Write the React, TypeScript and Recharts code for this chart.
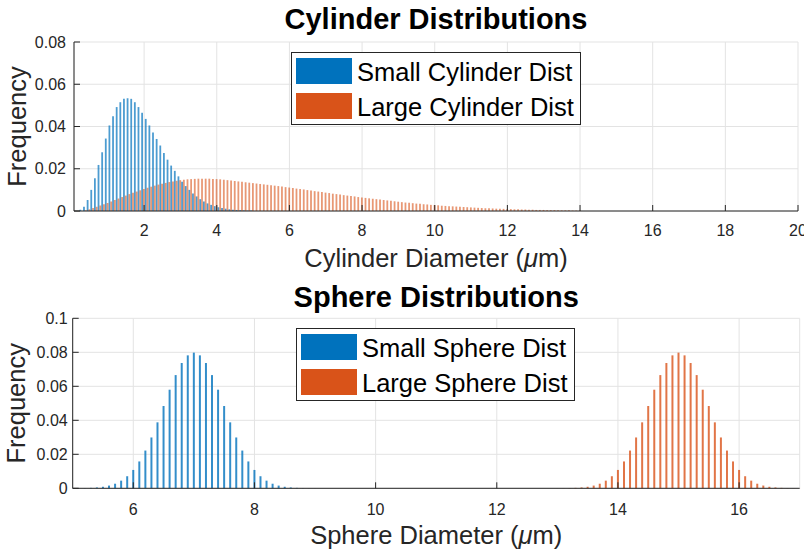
import React from 'react';
import { BarChart, Bar, XAxis, YAxis, CartesianGrid, Legend, Label } from 'recharts';

// histogram bin centres: first centre + index * bin width
const CYL_FIRST_BIN = 0.27;
const CYL_BIN_WIDTH = 0.1;
const SMALL_SPHERE_FIRST_BIN = 5.0;
const LARGE_SPHERE_FIRST_BIN = 13.0;
const SPH_BIN_WIDTH = 0.1;

const smallCylinderFreq = [
  0.0006, 0.002, 0.0052, 0.01, 0.0155, 0.0218, 0.0278, 0.0343, 0.0405, 0.0449,
  0.0492, 0.0515, 0.0531, 0.0534, 0.0531, 0.0515, 0.0492, 0.0465, 0.0436, 0.0405,
  0.0372, 0.0341, 0.031, 0.0275, 0.0243, 0.0215, 0.019, 0.0164, 0.0139, 0.0118,
  0.01, 0.0083, 0.0069, 0.0056, 0.0045, 0.0036, 0.0029, 0.0023, 0.0018, 0.0014,
  0.0011, 0.0008, 0.0006, 0.0005, 0.0004, 0.0003, 0.0002, 0.0002,
];

const largeCylinderFreq = [
  0, 0.0003, 0.0008, 0.0014, 0.002, 0.0026, 0.0032, 0.0038, 0.0045, 0.0052,
  0.0059, 0.0066, 0.0073, 0.008, 0.0086, 0.0092, 0.0098, 0.0104, 0.011, 0.0115,
  0.012, 0.0125, 0.0129, 0.0133, 0.0137, 0.014, 0.0143, 0.0146, 0.0148, 0.015,
  0.0151, 0.0152, 0.0153, 0.0153, 0.0153, 0.0153, 0.0152, 0.0151, 0.015, 0.0148,
  0.0146, 0.0144, 0.0142, 0.014, 0.0138, 0.0136, 0.0134, 0.0132, 0.013, 0.0128,
  0.0126, 0.0124, 0.0122, 0.012, 0.0118, 0.0116, 0.0113, 0.0111, 0.0109, 0.0106,
  0.0104, 0.0102, 0.0099, 0.0097, 0.0094, 0.0092, 0.009, 0.0087, 0.0085, 0.0082,
  0.008, 0.0078, 0.0075, 0.0073, 0.0071, 0.0069, 0.0066, 0.0064, 0.0062, 0.006,
  0.0058, 0.0056, 0.0054, 0.0052, 0.005, 0.0048, 0.0046, 0.0044, 0.0042, 0.004,
  0.0039, 0.0037, 0.0035, 0.0034, 0.0032, 0.0031, 0.0029, 0.0028, 0.0027, 0.0025,
  0.0024, 0.0023, 0.0022, 0.0021, 0.002, 0.0019, 0.0018, 0.0017, 0.0016, 0.0015,
  0.0014, 0.0013, 0.0013, 0.0012, 0.0011, 0.0011, 0.001, 0.0009, 0.0009, 0.0008,
  0.0008, 0.0007, 0.0007, 0.0006, 0.0006, 0.0005, 0.0005, 0.0005, 0.0004, 0.0004,
  0.0004, 0.0003, 0.0003, 0.0003, 0.0003, 0.0002, 0.0002, 0.0002,
];

const smallSphereFreq = [
  0.00003, 0.00006, 0.00012, 0.00025, 0.0005, 0.0009, 0.0016, 0.0027, 0.0045, 0.0071,
  0.0108, 0.0158, 0.0222, 0.0299, 0.0388, 0.0484, 0.058, 0.0666, 0.0737, 0.0782,
  0.0798,
  0.0782, 0.0737, 0.0666, 0.058, 0.0484, 0.0388, 0.0299, 0.0222, 0.0158, 0.0108,
  0.0071, 0.0045, 0.0027, 0.0016, 0.0009, 0.0005, 0.00025, 0.00012, 0.00006, 0.00003,
];

const largeSphereFreq = [
  0.00003, 0.00006, 0.00012, 0.00025, 0.0005, 0.0009, 0.0016, 0.0027, 0.0045, 0.0071,
  0.0108, 0.0158, 0.0222, 0.0299, 0.0388, 0.0484, 0.058, 0.0666, 0.0737, 0.0782,
  0.0798,
  0.0782, 0.0737, 0.0666, 0.058, 0.0484, 0.0388, 0.0299, 0.0222, 0.0158, 0.0108,
  0.0071, 0.0045, 0.0027, 0.0016, 0.0009, 0.0005, 0.00025, 0.00012, 0.00006, 0.00003,
];

const cylinderTicks = [2, 4, 6, 8, 10, 12, 14, 16, 18, 20];
const cylinderFreqTicks = [0, 0.02, 0.04, 0.06, 0.08];
const sphereTicks = [6, 8, 10, 12, 14, 16];
const sphereFreqTicks = [0, 0.02, 0.04, 0.06, 0.08, 0.1];

const BLUE = '#0072BD';
const ORANGE = '#D95319';
const INK = '#262626';
const GRID = '#e3e3e3';

const binCentre = (first: number, i: number, w: number) => Math.round((first + i * w) * 100) / 100;

const cylinderData = largeCylinderFreq.map((v, i) => ({
  d: binCentre(CYL_FIRST_BIN, i, CYL_BIN_WIDTH),
  small: smallCylinderFreq[i] ?? null,
  large: v,
}));

const sphereData = [
  ...smallSphereFreq.map((v, i) => ({ d: binCentre(SMALL_SPHERE_FIRST_BIN, i, SPH_BIN_WIDTH), small: v, large: null })),
  ...largeSphereFreq.map((v, i) => ({ d: binCentre(LARGE_SPHERE_FIRST_BIN, i, SPH_BIN_WIDTH), small: null, large: v })),
];

const tickStyle = { fill: INK, fontSize: 16 };

// keep legend entries in series order (small first)
const seriesOrder = (item: any) => (item.dataKey === 'small' ? 0 : 1);

const xTitle = (text: string) => (props: any) => {
  const { x, y, width } = props.viewBox;
  return (
    <text x={x + width / 2} y={y + 55.7} textAnchor="middle" fontSize={25.5} fill={INK}>
      {text} (<tspan fontStyle="italic">μ</tspan>m)
    </text>
  );
};

const yTitle = (props: any) => {
  const { x, y, height } = props.viewBox;
  const cx = x + 25.5;
  const cy = y + height / 2;
  return (
    <text x={cx} y={cy} transform={`rotate(-90 ${cx} ${cy})`} textAnchor="middle" fontSize={25.5} fill={INK}>
      Frequency
    </text>
  );
};

const legendBox = (width: number) => (props: any) => (
  <div
    style={{
      position: 'relative',
      width,
      height: 73,
      boxSizing: 'border-box',
      border: `1px solid ${INK}`,
      background: '#fff',
    }}
  >
    {(props.payload || []).map((p: any, i: number) => (
      <div key={p.value} style={{ position: 'absolute', left: 4, top: 5 + i * 34.5, height: 26, display: 'flex', alignItems: 'center' }}>
        <span style={{ display: 'inline-block', width: 56, height: 26, background: p.color }} />
        <span style={{ marginLeft: 5, fontSize: 25.5, lineHeight: '26px', color: '#000', whiteSpace: 'nowrap', paddingTop: 2 }}>
          {p.value}
        </span>
      </div>
    ))}
  </div>
);

const titleStyle = (top: number, left: number, width: number): React.CSSProperties => ({
  position: 'absolute',
  top,
  left,
  width,
  textAlign: 'center',
  fontSize: 29,
  lineHeight: '29px',
  fontWeight: 'bold',
  color: '#000',
});

export default function App() {
  return (
    <div
      style={{
        position: 'absolute',
        left: 0,
        top: 0,
        width: 804,
        height: 553,
        background: '#fff',
        overflow: 'hidden',
        fontFamily: "'Liberation Sans', Arial, Helvetica, sans-serif",
      }}
    >
      <div style={{ position: 'absolute', left: 0, top: 0 }}>
        <BarChart width={804} height={280} data={cylinderData} barGap={0} margin={{ top: 42, right: 6, bottom: 39, left: 0 }}>
          <CartesianGrid stroke={GRID} />
          <Bar dataKey="small" name="Small Cylinder Dist" fill={BLUE} fillOpacity={0.7} barSize={1.8} isAnimationActive={false} />
          <Bar dataKey="large" name="Large Cylinder Dist" fill={ORANGE} fillOpacity={0.6} barSize={1.8} isAnimationActive={false} />
          <XAxis
            dataKey="d"
            type="number"
            domain={[0.07, 20]}
            ticks={cylinderTicks}
            interval={0}
            height={30}
            tick={tickStyle}
            tickSize={-6}
            tickMargin={20}
            axisLine={{ stroke: INK }}
            tickLine={{ stroke: INK }}
          >
            <Label content={xTitle('Cylinder Diameter')} />
          </XAxis>
          <XAxis
            xAxisId="top"
            orientation="top"
            dataKey="d"
            type="number"
            domain={[0.07, 20]}
            ticks={cylinderTicks}
            interval={0}
            height={0}
            tickFormatter={() => ''}
            tickSize={-6}
            axisLine={{ stroke: INK }}
            tickLine={{ stroke: INK }}
          />
          <YAxis
            type="number"
            domain={[0, 0.08]}
            ticks={cylinderFreqTicks}
            interval={0}
            width={74}
            tick={tickStyle}
            tickSize={-6}
            tickMargin={14}
            axisLine={{ stroke: INK }}
            tickLine={{ stroke: INK }}
          >
            <Label content={yTitle} />
          </YAxis>
          <YAxis
            yAxisId="right"
            orientation="right"
            type="number"
            domain={[0, 0.08]}
            ticks={cylinderFreqTicks}
            interval={0}
            width={0}
            tickFormatter={() => ''}
            tickSize={-6}
            axisLine={{ stroke: INK }}
            tickLine={{ stroke: INK }}
          />
          <Legend
            content={legendBox(290)}
            itemSorter={seriesOrder}
            layout="vertical"
            align="center"
            verticalAlign="middle"
            wrapperStyle={{ left: 291, top: 52, width: 290 }}
          />
        </BarChart>
        <div style={titleStyle(5, 74, 724)}>Cylinder Distributions</div>
      </div>

      <div style={{ position: 'absolute', left: 0, top: 280 }}>
        <BarChart width={804} height={273} data={sphereData} margin={{ top: 38.3, right: 4.3, bottom: 34.7, left: 0 }}>
          <CartesianGrid stroke={GRID} />
          <Bar dataKey="small" name="Small Sphere Dist" fill={BLUE} fillOpacity={0.8} barSize={2} isAnimationActive={false} />
          <Bar xAxisId="large" dataKey="large" name="Large Sphere Dist" fill={ORANGE} fillOpacity={0.8} barSize={2} isAnimationActive={false} />
          <XAxis
            dataKey="d"
            type="number"
            domain={[5, 17]}
            ticks={sphereTicks}
            interval={0}
            height={30}
            tick={tickStyle}
            tickSize={-6}
            tickMargin={21}
            axisLine={{ stroke: INK }}
            tickLine={{ stroke: INK }}
          >
            <Label content={xTitle('Sphere Diameter')} />
          </XAxis>
          <XAxis xAxisId="large" dataKey="d" type="number" domain={[5, 17]} hide />
          <YAxis
            type="number"
            domain={[0, 0.1]}
            ticks={sphereFreqTicks}
            interval={0}
            width={72.7}
            tick={tickStyle}
            tickSize={-6}
            tickMargin={11}
            axisLine={{ stroke: INK }}
            tickLine={{ stroke: INK }}
          >
            <Label content={yTitle} />
          </YAxis>
          <Legend
            content={legendBox(279)}
            itemSorter={seriesOrder}
            layout="vertical"
            align="center"
            verticalAlign="middle"
            wrapperStyle={{ left: 296, top: 48, width: 279 }}
          />
        </BarChart>
        <div style={titleStyle(3, 72.7, 727)}>Sphere Distributions</div>
      </div>
    </div>
  );
}
